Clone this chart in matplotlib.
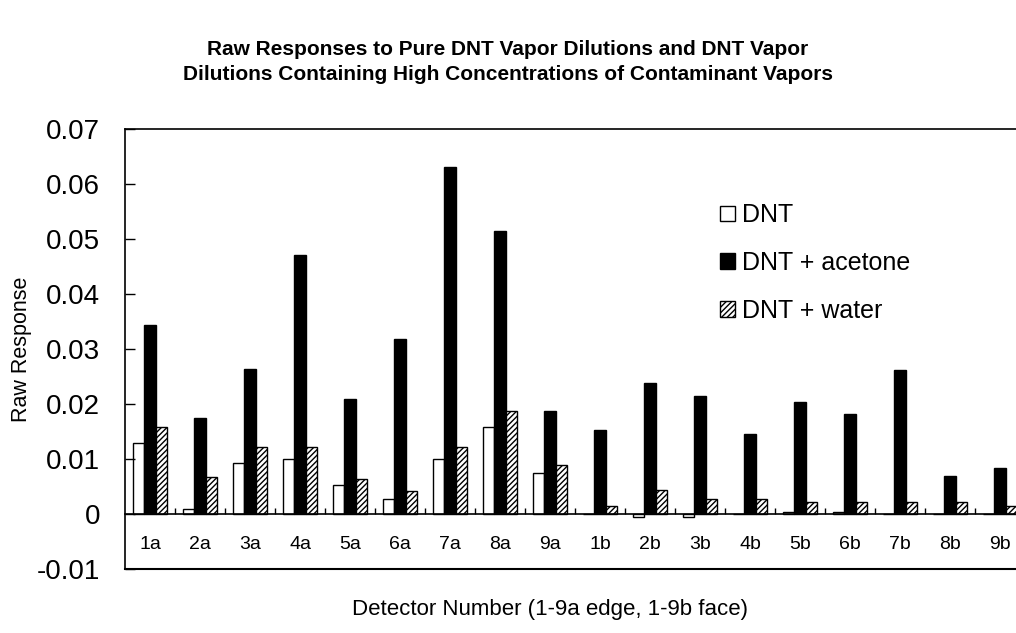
import matplotlib
matplotlib.use('Agg')
import matplotlib.pyplot as plt
import matplotlib.ticker as tckr
import numpy as np

plt.rcParams['font.family'] = ['Liberation Sans', 'DejaVu Sans']
plt.rcParams['axes.unicode_minus'] = False
plt.rcParams['hatch.linewidth'] = 1.0

# Data
detectors = ['1a', '2a', '3a', '4a', '5a', '6a', '7a', '8a', '9a',
             '1b', '2b', '3b', '4b', '5b', '6b', '7b', '8b', '9b']
dnt = [0.0130, 0.0010, 0.0093, 0.0100, 0.0053, 0.0028, 0.0100, 0.0158, 0.0074,
       0.0000, -0.0005, -0.0005, 0.0000, 0.0004, 0.0004, 0.0000, 0.0000, 0.0000]
dnt_acetone = [0.0344, 0.0174, 0.0264, 0.0471, 0.0209, 0.0319, 0.0631, 0.0515, 0.0188,
               0.0152, 0.0239, 0.0214, 0.0145, 0.0203, 0.0182, 0.0261, 0.0069, 0.0083]
dnt_water = [0.0158, 0.0068, 0.0122, 0.0122, 0.0064, 0.0042, 0.0122, 0.0187, 0.0089,
             0.0015, 0.0043, 0.0028, 0.0028, 0.0021, 0.0021, 0.0021, 0.0021, 0.0015]
series_names = ['DNT', 'DNT + acetone', 'DNT + water']
y_ticks = [-0.01, 0, 0.01, 0.02, 0.03, 0.04, 0.05, 0.06, 0.07]

W, H = 1016, 633
fig = plt.figure(figsize=(W / 100, H / 100), dpi=100)
# plot area runs a little past the right edge of the picture, as in the original
ax = fig.add_axes([125 / W, (H - 569) / H, 900 / W, 440 / H])

x = np.arange(len(detectors))
bw = 0.233
ax.bar(x - bw, dnt, bw, color='white', edgecolor='black', linewidth=1.0, label=series_names[0])
ax.bar(x, dnt_acetone, bw, color='black', edgecolor='black', linewidth=1.0, label=series_names[1])
ax.bar(x + bw, dnt_water, bw, color='white', edgecolor='black', linewidth=1.0,
       hatch='//////', label=series_names[2])

ax.set_xlim(-0.5, len(detectors) - 0.5)
ax.set_ylim(-0.01, 0.07)

# y axis
ax.yaxis.set_major_locator(tckr.FixedLocator(y_ticks))
ax.yaxis.set_major_formatter(tckr.FuncFormatter(lambda v, p: '%g' % round(v, 3)))
ax.tick_params(axis='y', direction='in', length=7, width=1.0, labelsize=20, pad=18)

# category axis sits on the zero line, labels below it
ax.spines['bottom'].set_position(('data', 0))
ax.spines['right'].set_visible(False)
ax.xaxis.set_major_locator(tckr.FixedLocator(x))
ax.xaxis.set_major_formatter(tckr.FixedFormatter(detectors))
ax.xaxis.set_minor_locator(tckr.FixedLocator(x[1:] - 0.5))
ax.tick_params(axis='x', which='major', length=0, labelsize=14, pad=16)
ax.tick_params(axis='x', which='minor', direction='in', length=4, width=1.0)
ax.axhline(-0.01, color='black', linewidth=1.5, clip_on=False)
for s in ['left', 'top', 'bottom']:
    ax.spines[s].set_linewidth(1.2)

fig.text(22 / W, 1 - 349 / H, 'Raw Response', rotation=90,
         ha='center', va='center', fontsize=15.5)
fig.text(550 / W, 1 - 610 / H, 'Detector Number (1-9a edge, 1-9b face)',
         ha='center', va='center', fontsize=16)

fig.text(508 / W, 1 - 62 / H,
         'Raw Responses to Pure DNT Vapor Dilutions and DNT Vapor\n'
         'Dilutions Containing High Concentrations of Contaminant Vapors',
         ha='center', va='center', fontsize=15, fontweight='bold', linespacing=1.45)

leg = ax.legend(loc='center left', bbox_to_anchor=(720 / W, 1 - 263 / H),
                bbox_transform=fig.transFigure, frameon=False, fontsize=18,
                handlelength=0.6, handleheight=0.6, handletextpad=0.3,
                labelspacing=0.95, borderpad=0, borderaxespad=0)

fig.savefig('out.png', dpi=100)
